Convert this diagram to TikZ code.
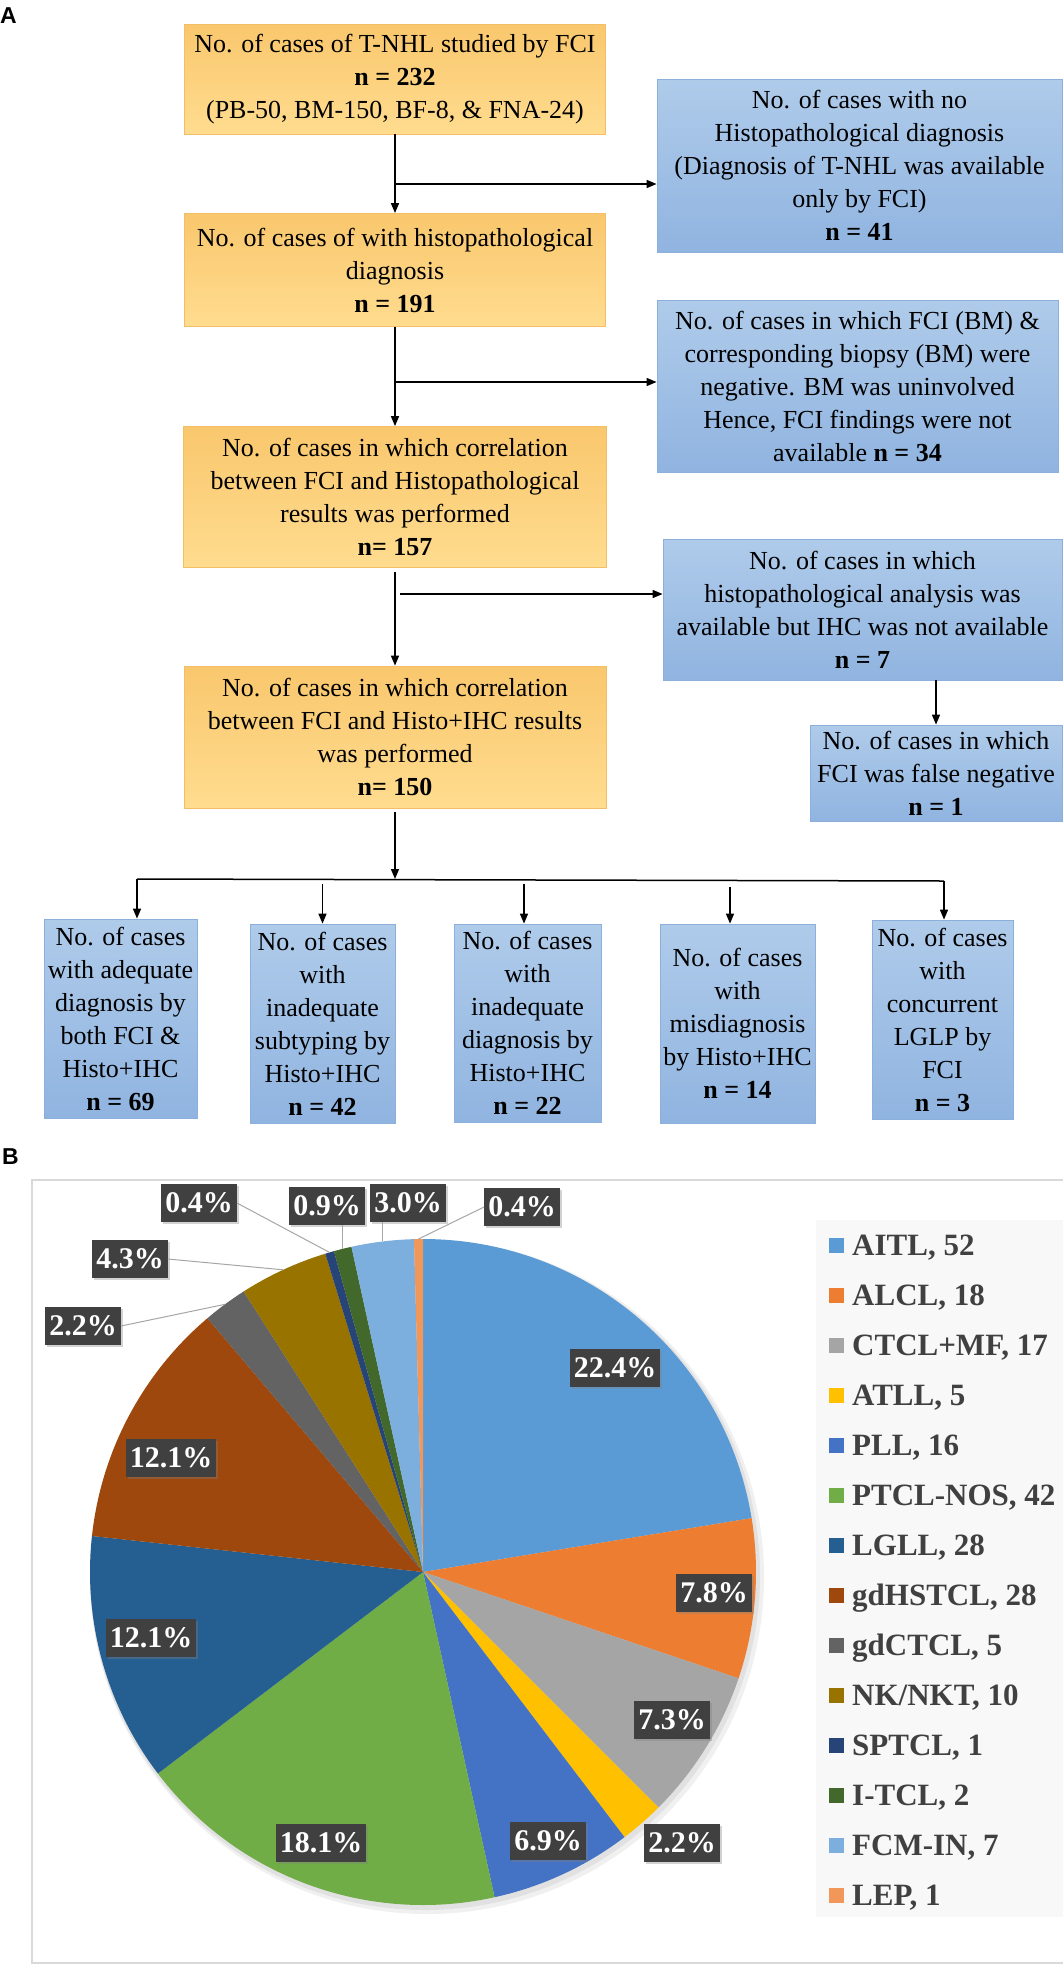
\documentclass[tikz,border=0pt]{standalone}
\usepackage{fontspec}
\setmainfont{Liberation Serif}
\newfontfamily\labfont{Liberation Sans}
\usetikzlibrary{arrows.meta,calc,shadows}
\definecolor{otop}{HTML}{F9C76D}
\definecolor{obot}{HTML}{FFDC8F}
\definecolor{oborder}{HTML}{F4BE66}
\definecolor{btop}{HTML}{AFCBEA}
\definecolor{bbot}{HTML}{90B4E0}
\definecolor{bborder}{HTML}{8CB0DB}
\definecolor{labgray}{HTML}{404040}
\definecolor{leadgray}{HTML}{A6A6A6}
\definecolor{legtext}{HTML}{404040}
\definecolor{legbg}{HTML}{F9F8F8}
\definecolor{framegray}{HTML}{D9D9D9}
\definecolor{p1}{HTML}{5B9BD5}
\definecolor{p2}{HTML}{ED7D31}
\definecolor{p3}{HTML}{A5A5A5}
\definecolor{p4}{HTML}{FFC000}
\definecolor{p5}{HTML}{4472C4}
\definecolor{p6}{HTML}{70AD47}
\definecolor{p7}{HTML}{255E91}
\definecolor{p8}{HTML}{9E480E}
\definecolor{p9}{HTML}{636363}
\definecolor{p10}{HTML}{997300}
\definecolor{p11}{HTML}{264478}
\definecolor{p12}{HTML}{43682B}
\definecolor{p13}{HTML}{7CAFDD}
\definecolor{p14}{HTML}{F1975A}
\tikzset{
  flow/.style={inner sep=0pt, align=center, font=\fontsize{26}{33}\selectfont, line width=0.8pt},
  obox/.style={flow, draw=oborder, top color=otop, bottom color=obot},
  bbox/.style={flow, draw=bborder, top color=btop, bottom color=bbot},
  arr/.style={line width=1.5pt, -{Triangle[length=10pt,width=8pt]}},
  link/.style={line width=1.5pt},
  plab/.style={fill=labgray, text=white, inner xsep=4pt, inner ysep=0pt, minimum height=38pt,
    font=\bfseries\fontsize{30}{30}\selectfont,
    drop shadow={shadow xshift=2pt,shadow yshift=-2pt,opacity=.35}},
  lead/.style={draw=leadgray, line width=1pt},
  legsq/.style={fill=#1, minimum size=15pt, inner sep=0pt},
  legtx/.style={anchor=base west, inner sep=0pt, text=legtext, font=\bfseries\fontsize{31}{31}\selectfont},
  panel/.style={font=\labfont\bfseries\fontsize{23}{23}\selectfont, anchor=north west, inner sep=0pt}
}
\begin{document}
\begin{tikzpicture}[x=1pt,y=-1pt]
\fill[white] (0,0) rectangle (1063,1965);
\useasboundingbox (0,0) rectangle (1063,1965);

% ---------- Panel A ----------
\node[panel] (pa) at (0,7) {A};

\node[obox, minimum width=421pt, minimum height=110pt] (b1) at (395,79)
  {No. of cases of T-NHL studied by FCI\\\textbf{n = 232}\\(PB-50, BM-150, BF-8, \& FNA-24)};
\node[obox, minimum width=421pt, minimum height=113pt] (b2) at (395,270)
  {No. of cases of with histopathological\\diagnosis\\\textbf{n = 191}};
\node[obox, minimum width=423pt, minimum height=141pt] (b3) at (395,497)
  {No. of cases in which correlation\\between FCI and Histopathological\\results was performed\\\textbf{n= 157}};
\node[obox, minimum width=422pt, minimum height=142pt] (b4) at (395,737)
  {No. of cases in which correlation\\between FCI and Histo+IHC results\\was performed\\\textbf{n= 150}};

\node[bbox, minimum width=405pt, minimum height=173pt] (r1) at (859.5,165.5)
  {No. of cases with no\\Histopathological diagnosis\\(Diagnosis of T-NHL was available\\only by FCI)\\\textbf{n = 41}};
\node[bbox, minimum width=401pt, minimum height=172pt] (r2) at (857.5,386)
  {No. of cases in which FCI (BM) \&\\corresponding biopsy (BM) were\\negative. BM was uninvolved\\Hence, FCI findings were not\\available \textbf{n = 34}};
\node[bbox, minimum width=399pt, minimum height=141pt] (r3) at (862.5,609.5)
  {No. of cases in which\\histopathological analysis was\\available but IHC was not available\\\textbf{n = 7}};
\node[bbox, minimum width=252pt, minimum height=96pt] (r4) at (936,773)
  {No. of cases in which\\FCI was false negative\\\textbf{n = 1}};

\node[bbox, minimum width=153pt, minimum height=199pt] (c1) at (120.5,1018.5)
  {No. of cases\\with adequate\\diagnosis by\\both FCI \&\\Histo+IHC\\\textbf{n = 69}};
\node[bbox, minimum width=145pt, minimum height=199pt] (c2) at (322.5,1023.5)
  {No. of cases\\with\\inadequate\\subtyping by\\Histo+IHC\\\textbf{n = 42}};
\node[bbox, minimum width=147pt, minimum height=198pt] (c3) at (527.5,1023)
  {No. of cases\\with\\inadequate\\diagnosis by\\Histo+IHC\\\textbf{n = 22}};
\node[bbox, minimum width=155pt, minimum height=199pt] (c4) at (737.5,1023.5)
  {No. of cases\\with\\misdiagnosis\\by Histo+IHC\\\textbf{n = 14}};
\node[bbox, minimum width=141pt, minimum height=199pt] (c5) at (942.5,1019.5)
  {No. of cases\\with\\concurrent\\LGLP by\\FCI\\\textbf{n = 3}};

% connectors
\draw[arr] (b1) -- (b2);
\coordinate (j1) at (395,184);
\draw[arr] (j1) -- (j1 -| r1.west);
\draw[arr] (b2) -- (b3);
\coordinate (j2) at (395,382);
\draw[arr] (j2) -- (j2 -| r2.west);
\draw[arr] ([yshift=-4pt]b3.south) -- (b4.north);
\coordinate (j3) at (400,594);
\draw[arr] (j3) -- (j3 -| r3.west);
\draw[arr] (r3.south -| r4.north) -- (r4.north);
\coordinate (sp) at (395,879);
\draw[arr] ([yshift=-4pt]b4.south) -- (sp);
\coordinate (hl) at (137,879);
\coordinate (hr) at (944,881);
\draw[link] (hl) -- (hr);
\draw[arr] (hl) -- (hl |- c1.north);
\draw[arr] ([yshift=40pt]c2.north) -- (c2.north);
\draw[arr] ([yshift=40pt,xshift=-3.5pt]c3.north) -- ([xshift=-3.5pt]c3.north);
\draw[arr] ([yshift=37pt,xshift=-7.5pt]c4.north) -- ([xshift=-7.5pt]c4.north);
\draw[arr] (hr) -- (hr |- c5.north);

% ---------- Panel B ----------
\node[panel] (pb) at (2,1148) {B};
\draw[framegray, line width=1.2pt] (1063,1180) -- (32,1180) -- (32,1963) -- (1063,1963);
\fill[legbg] (816,1220) rectangle (1063,1917);

\coordinate (pc) at (423,1572);
\fill[black, opacity=0.06] ($(pc)+(4,5)$) circle[radius=337];
\fill[black, opacity=0.06] ($(pc)+(2,3)$) circle[radius=335];
\foreach \s/\e/\c in {-90/-9.31/p1, -9.31/18.62/p2, 18.62/45.0/p3, 45.0/52.76/p4,
  52.76/77.59/p5, 77.59/142.76/p6, 142.76/186.21/p7, 186.21/229.66/p8,
  229.66/237.41/p9, 237.41/252.93/p10, 252.93/254.48/p11, 254.48/257.59/p12,
  257.59/268.45/p13, 268.45/270/p14}
  \fill[\c] (pc) -- ++(\s:333) arc[start angle=\s, end angle=\e, radius=333] -- cycle;

\node[plab] (l1) at (615,1368) {22.4\%};
\node[plab] (l2) at (714,1593) {7.8\%};
\node[plab] (l3) at (672,1720) {7.3\%};
\node[plab] (l4) at (682,1843) {2.2\%};
\node[plab] (l5) at (548,1841) {6.9\%};
\node[plab] (l6) at (321,1843) {18.1\%};
\node[plab] (l7) at (151,1638) {12.1\%};
\node[plab] (l8) at (171,1458) {12.1\%};
\node[plab] (l9) at (83,1326) {2.2\%};
\node[plab] (l10) at (130,1259) {4.3\%};
\node[plab] (l11) at (199,1203) {0.4\%};
\node[plab] (l12) at (327,1206) {0.9\%};
\node[plab] (l13) at (408,1203) {3.0\%};
\node[plab] (l14) at (522,1207) {0.4\%};

\coordinate (e9) at ($(pc)+(233.5:333)$);
\coordinate (e10) at ($(pc)+(245.17:333)$);
\coordinate (e11) at ($(pc)+(253.7:333)$);
\coordinate (e12) at ($(pc)+(256.03:333)$);
\coordinate (e13) at ($(pc)+(263.02:333)$);
\coordinate (e14) at ($(pc)+(269.2:333)$);
\draw[lead] (l9.east) -- (e9);
\draw[lead] (l10.east) -- (e10);
\draw[lead] (l11.east) -- (e11);
\draw[lead] (l12.south -| e12) -- (e12);
\draw[lead] (l13.south -| e13) -- (e13);
\draw[lead] (l14.west) -- (e14);

% legend
\foreach \t/\c [count=\i from 0] in {{AITL, 52}/p1, {ALCL, 18}/p2, {CTCL+MF, 17}/p3,
  {ATLL, 5}/p4, {PLL, 16}/p5, {PTCL-NOS, 42}/p6, {LGLL, 28}/p7, {gdHSTCL, 28}/p8,
  {gdCTCL, 5}/p9, {NK/NKT, 10}/p10, {SPTCL, 1}/p11, {I-TCL, 2}/p12, {FCM-IN, 7}/p13, {LEP, 1}/p14}
{
  \node[legsq=\c] (sq\i) at (836.5,1245+50*\i) {};
  \node[legtx] (lt\i) at (852,1255+50*\i) {\t};
}
\end{tikzpicture}
\end{document}
